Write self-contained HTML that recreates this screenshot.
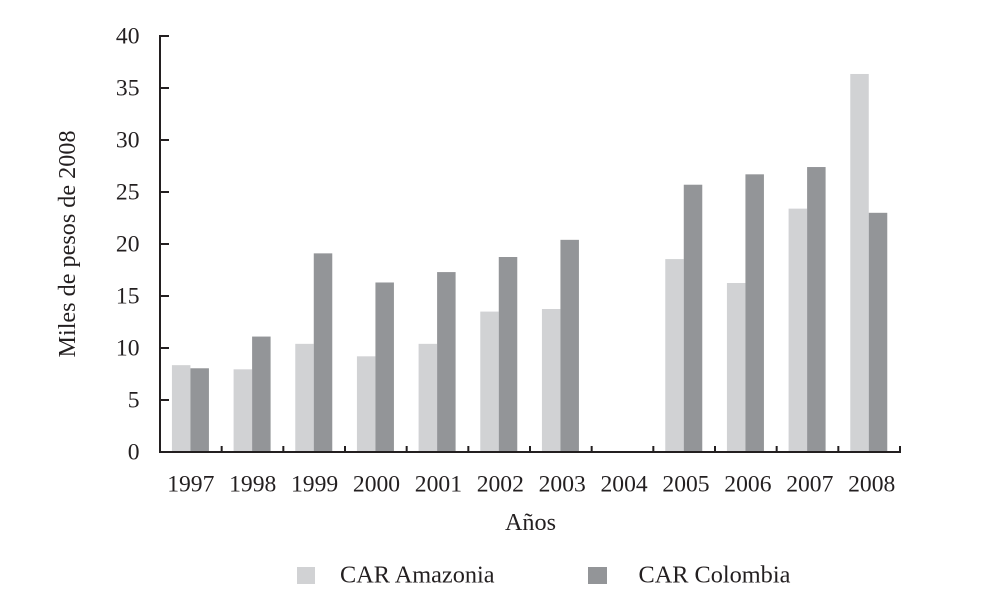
<!DOCTYPE html>
<html lang="es">
<head>
<meta charset="utf-8">
<title>Miles de pesos de 2008</title>
<style>
html,body{margin:0;padding:0;background:#fff;}
svg{display:block;font-family:"Liberation Serif",serif;fill:#231f20;}
text{fill:#231f20;}
</style>
</head>
<body>
<svg id="chart" xmlns="http://www.w3.org/2000/svg" width="1000" height="597" viewBox="0 0 1000 597">
  <text x="0" y="0" transform="translate(75,244) rotate(-90)" text-anchor="middle" font-size="24.2">Miles de pesos de 2008</text>
  <text x="530.5" y="530" text-anchor="middle" font-size="24.2">Años</text>
  <rect x="297" y="567" width="18" height="17" fill="#d1d2d4"></rect>
  <text x="340" y="582.5" font-size="24.3">CAR Amazonia</text>
  <rect x="588" y="567" width="19" height="17" fill="#939598"></rect>
  <text x="638.5" y="582.5" font-size="24.3">CAR Colombia</text>
</svg>
<script>
const categories = ['1997','1998','1999','2000','2001','2002','2003','2004','2005','2006','2007','2008'];
const amazonia = [8.35,7.95,10.4,9.2,10.4,13.5,13.75,0,18.55,16.25,23.4,36.35];
const colombia = [8.05,11.1,19.1,16.3,17.3,18.75,20.4,0,25.7,26.7,27.4,23];
const yTicks = [0,5,10,15,20,25,30,35,40];

const svgNS = 'http://www.w3.org/2000/svg';
const chart = document.getElementById('chart');
const plotLeft = 160, plotRight = 900, plotTop = 36, plotBottom = 452;
const yMax = 40, barWidth = 18.5;
const bandWidth = (plotRight - plotLeft) / categories.length;
const labelStart = 190.8, labelStep = 61.9;

function yScale(v) { return plotBottom - (v / yMax) * (plotBottom - plotTop); }
function xBand(i) { return plotLeft + bandWidth * i; }
function xCenter(i) { return xBand(i) + bandWidth / 2 - 0.4; }
function xLabel(i) { return labelStart + labelStep * i; }

function make(tag, attrs) {
  const el = document.createElementNS(svgNS, tag);
  for (const k in attrs) el.setAttribute(k, attrs[k]);
  return el;
}

categories.forEach(function (cat, i) {
  if (amazonia[i] > 0) {
    const a = make('rect', {x: xCenter(i) - barWidth, y: yScale(amazonia[i]), width: barWidth, height: plotBottom - yScale(amazonia[i]), fill: '#d1d2d4'});
    
    
    chart.appendChild(a);
  }
  if (colombia[i] > 0) {
    const c = make('rect', {x: xCenter(i), y: yScale(colombia[i]), width: barWidth, height: plotBottom - yScale(colombia[i]), fill: '#939598'});
    
    
    chart.appendChild(c);
  }
  const label = make('text', {x: xLabel(i), y: 491.5, 'text-anchor': 'middle', 'font-size': 23.6});
  label.textContent = cat;
  
  
  chart.appendChild(label);
  const tick = make('line', {x1: xBand(i + 1), x2: xBand(i + 1), y1: plotBottom, y2: plotBottom - 6, stroke: '#231f20', 'stroke-width': 2});
  
  
  chart.appendChild(tick);
});

yTicks.forEach(function (v) {
  const tick = make('line', {x1: plotLeft, x2: plotLeft + 9, y1: yScale(v), y2: yScale(v), stroke: '#231f20', 'stroke-width': 2});
  
  
  chart.appendChild(tick);
  const label = make('text', {x: 139.5, y: yScale(v) + 7.5, 'text-anchor': 'end', 'font-size': 23.6});
  label.textContent = v;
  
  
  chart.appendChild(label);
});

const yAxis = make('line', {x1: plotLeft, x2: plotLeft, y1: plotTop - 1, y2: plotBottom + 1, stroke: '#231f20', 'stroke-width': 2});


chart.appendChild(yAxis);

const xAxis = make('line', {x1: plotLeft - 1, x2: plotRight + 1, y1: plotBottom, y2: plotBottom, stroke: '#231f20', 'stroke-width': 2});


chart.appendChild(xAxis);
</script>
</body>
</html>
